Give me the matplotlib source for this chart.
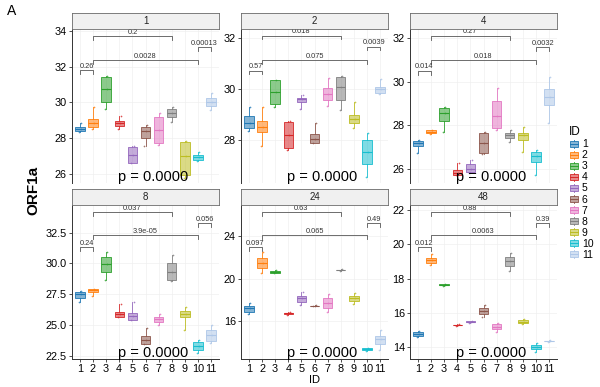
import matplotlib
matplotlib.use("Agg")
import matplotlib.pyplot as plt
from matplotlib.patches import Rectangle, Patch
from matplotlib.lines import Line2D
from matplotlib.legend_handler import HandlerBase
from matplotlib.transforms import blended_transform_factory
from matplotlib.ticker import FormatStrFormatter

plt.rcParams['font.family'] = ['Liberation Sans', 'DejaVu Sans']

TIMES = ['1', '2', '4', '8', '24', '48']
IDS = list(range(1, 12))
COLORS = ['#1f77b4', '#ff7f0e', '#2ca02c', '#d62728', '#9467bd', '#8c564b',
          '#e377c2', '#7f7f7f', '#bcbd22', '#17becf', '#aec7e8']

# box statistics per time point (lo whisker, q1, median, q3, hi whisker)
t1_lo = [28.35, 28.49, 29.61, 28.49, 26.60, 27.58, 27.63, 28.92, 25.80, 26.75, 29.57]
t1_q1 = [28.40, 28.62, 30.03, 28.71, 26.61, 28.04, 27.74, 29.16, 25.95, 26.80, 29.79]
t1_md = [28.49, 28.83, 30.76, 28.84, 27.06, 28.41, 28.47, 29.42, 26.98, 26.94, 30.02]
t1_q3 = [28.60, 29.05, 31.40, 28.97, 27.50, 28.60, 29.20, 29.61, 27.80, 27.06, 30.22]
t1_hi = [28.86, 29.72, 31.50, 29.25, 27.55, 28.73, 29.39, 29.75, 27.82, 27.24, 30.54]

t2_lo = [28.38, 27.78, 29.30, 27.62, 29.24, 27.88, 29.35, 29.19, 28.50, 26.57, 29.80]
t2_q1 = [28.47, 28.31, 29.42, 27.71, 29.51, 27.91, 29.58, 29.58, 28.67, 27.06, 29.85]
t2_md = [28.69, 28.53, 29.91, 28.22, 29.62, 28.04, 29.82, 30.10, 28.84, 27.55, 30.00]
t2_q3 = [28.95, 28.77, 30.36, 28.72, 29.67, 28.25, 30.04, 30.49, 28.99, 28.01, 30.08]
t2_hi = [29.32, 29.30, 30.38, 28.75, 29.78, 28.66, 30.45, 30.52, 29.51, 28.27, 30.40]

t4_lo = [26.73, 27.60, 27.70, 25.70, 25.80, 26.67, 27.79, 27.24, 26.75, 25.70, 28.08]
t4_q1 = [27.05, 27.62, 28.20, 25.70, 25.83, 26.70, 27.85, 27.39, 27.31, 26.29, 28.91]
t4_md = [27.16, 27.69, 28.54, 25.80, 26.00, 27.19, 28.42, 27.54, 27.53, 26.58, 29.31]
t4_q3 = [27.28, 27.77, 28.77, 25.93, 26.21, 27.65, 29.11, 27.65, 27.65, 26.77, 29.65]
t4_hi = [27.30, 27.80, 28.85, 26.27, 26.39, 27.67, 29.70, 27.77, 27.93, 26.85, 30.23]

t8_lo = [26.84, 27.35, 28.65, 25.65, 25.40, 23.45, 24.98, 28.60, 24.59, 22.74, 23.50]
t8_q1 = [27.22, 27.70, 29.28, 25.65, 25.40, 23.46, 25.25, 28.65, 25.62, 22.96, 23.72]
t8_md = [27.49, 27.80, 29.95, 25.86, 25.73, 23.78, 25.48, 29.33, 25.89, 23.31, 24.18]
t8_q3 = [27.70, 27.90, 30.55, 26.05, 25.95, 24.13, 25.67, 30.06, 26.16, 23.58, 24.59]
t8_hi = [27.75, 27.95, 30.96, 26.70, 26.84, 24.73, 25.87, 30.69, 26.48, 23.78, 25.00]

t24_lo = [16.68, 20.49, 20.50, 16.60, 17.50, 17.40, 16.84, 20.74, 17.60, 13.20, 13.30]
t24_q1 = [16.90, 20.95, 20.55, 16.68, 17.83, 17.41, 17.21, 20.76, 17.90, 13.28, 13.88]
t24_md = [17.21, 21.42, 20.64, 16.75, 18.15, 17.43, 17.68, 20.79, 18.15, 13.38, 14.35]
t24_q3 = [17.46, 21.94, 20.72, 16.82, 18.39, 17.46, 18.15, 20.82, 18.36, 13.48, 14.65]
t24_hi = [17.74, 22.50, 20.78, 16.87, 18.72, 17.50, 18.55, 20.85, 18.64, 13.55, 15.20]

t48_lo = [14.63, 18.80, 17.60, 15.25, 15.44, 15.75, 14.90, 18.45, 15.35, 13.70, 14.33]
t48_q1 = [14.68, 18.93, 17.63, 15.28, 15.46, 15.94, 15.05, 18.74, 15.40, 13.89, 14.35]
t48_md = [14.80, 19.09, 17.65, 15.30, 15.49, 16.12, 15.20, 19.03, 15.49, 14.00, 14.37]
t48_q3 = [14.91, 19.22, 17.67, 15.32, 15.51, 16.27, 15.34, 19.28, 15.59, 14.14, 14.39]
t48_hi = [14.97, 19.42, 17.70, 15.35, 15.54, 16.47, 15.40, 19.50, 15.65, 14.25, 14.41]

# pairwise comparisons
PAIRS = [(1, 2), (2, 8), (2, 10), (10, 11)]
p_t1 = ['0.26', '0.2', '0.0028', '0.00013']
p_t2 = ['0.57', '0.018', '0.075', '0.0039']
p_t4 = ['0.014', '0.27', '0.018', '0.0032']
p_t8 = ['0.24', '0.037', '3.9e-05', '0.056']
p_t24 = ['0.097', '0.63', '0.065', '0.49']
p_t48 = ['0.012', '0.88', '0.0063', '0.39']
by_t1 = [31.79, 33.70, 32.36, 33.10]
by_t2 = [30.73, 32.10, 31.15, 31.67]
by_t4 = [30.51, 32.12, 31.00, 31.61]
by_t8 = [31.31, 34.16, 32.31, 33.29]
by_t24 = [22.92, 26.19, 24.07, 25.16]
by_t48 = [19.83, 21.87, 20.54, 21.23]
GLOBAL_P = 'p = 0.0000'

YLIMS = [(25.5, 34.1), (26.33, 32.36), (25.34, 32.43),
         (22.23, 34.75), (12.48, 26.87), (13.32, 22.29)]
YTICKS = [[26, 28, 30, 32, 34], [28, 30, 32], [26, 28, 30, 32],
          [22.5, 25, 27.5, 30, 32.5], [16, 20, 24], [14, 16, 18, 20, 22]]

STATS = [(t1_lo, t1_q1, t1_md, t1_q3, t1_hi), (t2_lo, t2_q1, t2_md, t2_q3, t2_hi),
         (t4_lo, t4_q1, t4_md, t4_q3, t4_hi), (t8_lo, t8_q1, t8_md, t8_q3, t8_hi),
         (t24_lo, t24_q1, t24_md, t24_q3, t24_hi), (t48_lo, t48_q1, t48_md, t48_q3, t48_hi)]
PLAB = [p_t1, p_t2, p_t4, p_t8, p_t24, p_t48]
BY = [by_t1, by_t2, by_t4, by_t8, by_t24, by_t48]

W, H = 600, 387
fig = plt.figure(figsize=(6, 3.87), dpi=100)

col_left = [72, 241, 410]
pw = 147
rows = [(29, 183, 13), (205, 359, 189)]  # plot top, plot bottom, strip top


def fx(px):
    return px / W


def fy(py):
    return 1 - py / H


for k, t in enumerate(TIMES):
    r, c = divmod(k, 3)
    top, bot, stop = rows[r]
    ax = fig.add_axes([fx(col_left[c]), fy(bot), pw / W, (bot - top) / H])
    sax = fig.add_axes([fx(col_left[c]), fy(top), pw / W, (top - stop) / H])
    sax.set_facecolor('#F0F0F0')
    sax.set_xticks([]); sax.set_yticks([])
    for s in sax.spines.values():
        s.set_color('#6a6a6a'); s.set_linewidth(0.6)
    sax.text(0.5, 0.5, t, ha='center', va='center', fontsize=7, color='#222222',
             transform=sax.transAxes)

    lo, q1, md, q3, hi = STATS[k]
    bstats = [dict(whislo=lo[i], q1=q1[i], med=md[i], q3=q3[i], whishi=hi[i], fliers=[])
              for i in range(len(IDS))]
    bp = ax.bxp(bstats, positions=IDS, widths=0.72, patch_artist=True,
                showcaps=False, showfliers=False, manage_ticks=False)
    for i, col in enumerate(COLORS):
        bp['boxes'][i].set_facecolor(matplotlib.colors.to_rgba(col, 0.55))
        bp['boxes'][i].set_edgecolor(col)
        bp['boxes'][i].set_linewidth(0.6)
        bp['medians'][i].set_color(col)
        bp['medians'][i].set_linewidth(0.8)
        for wl in bp['whiskers'][2 * i:2 * i + 2]:
            wl.set_color(col); wl.set_linewidth(0.6)
        # jittered sample points
        ax.scatter([IDS[i] - 0.08, IDS[i] + 0.05, IDS[i] + 0.1],
                   [lo[i], md[i], hi[i]], s=1.5, color=col, alpha=0.8,
                   linewidths=0, zorder=4)

    ax.set_xlim(0.4, 11.6)
    ax.set_ylim(*YLIMS[k])
    ax.set_yticks(YTICKS[k])
    if k == 3:
        ax.yaxis.set_major_formatter(FormatStrFormatter('%.1f'))
    ax.set_xticks(IDS)
    ax.grid(True, which='major', color='#EDEDED', linewidth=0.4)
    ax.set_axisbelow(True)
    for s in ['top', 'right']:
        ax.spines[s].set_visible(False)
    ax.spines['left'].set_color('#333333'); ax.spines['left'].set_linewidth(0.7)
    ax.spines['bottom'].set_color('#333333'); ax.spines['bottom'].set_linewidth(0.7)
    ax.tick_params(axis='both', length=2.2, width=0.6, color='#333333',
                   labelsize=7.8, pad=1.5, labelcolor='black')
    if r == 0:
        ax.spines['bottom'].set_visible(False)
        ax.tick_params(axis='x', length=0, labelbottom=False)

    # brackets
    span = YLIMS[k][1] - YLIMS[k][0]
    tip = 0.025 * span
    for (a, b), lab, yb in zip(PAIRS, PLAB[k], BY[k]):
        ax.plot([a, a, b, b], [yb - tip, yb, yb, yb - tip], color='#555555',
                lw=0.6, zorder=5)
        ax.text((a + b) / 2, yb + 0.002 * span, lab, ha='center', va='bottom',
                fontsize=5.3, color='#333333', zorder=6)

    tr = blended_transform_factory(ax.transData, ax.transAxes)
    ax.text(6.6, -0.005, GLOBAL_P, transform=tr, ha='center', va='bottom',
            fontsize=10.5, color='black', zorder=7)

fig.text(fx(315), fy(380), 'ID', ha='center', va='center', fontsize=8)
fig.text(fx(33), fy(190), 'ORF1a', ha='center', va='center', rotation=90,
         fontsize=11, fontweight='bold')
fig.text(fx(7), fy(11), 'A', ha='left', va='center', fontsize=10)


class BoxHandler(HandlerBase):
    def create_artists(self, legend, orig_handle, xdescent, ydescent, width,
                       height, fontsize, trans):
        col = orig_handle.get_edgecolor()
        x0, y0 = -xdescent, -ydescent
        rect = Rectangle((x0 + 0.05 * width, y0 + 0.15 * height), 0.9 * width,
                         0.7 * height, facecolor=(col[0], col[1], col[2], 0.55),
                         edgecolor=col, linewidth=0.6, transform=trans)
        med = Line2D([x0 + 0.05 * width, x0 + 0.95 * width],
                     [y0 + 0.5 * height] * 2, color=col, lw=0.7, transform=trans)
        w1 = Line2D([x0 + 0.5 * width] * 2, [y0 + 0.85 * height, y0 + height],
                    color=col, lw=0.6, transform=trans)
        w2 = Line2D([x0 + 0.5 * width] * 2, [y0, y0 + 0.15 * height],
                    color=col, lw=0.6, transform=trans)
        return [rect, med, w1, w2]


handles = [Patch(facecolor=c, edgecolor=c) for c in COLORS]
leg = fig.legend(handles, [str(i) for i in IDS], title='ID',
                 loc='upper left', bbox_to_anchor=(fx(562), fy(119)),
                 handler_map={Patch: BoxHandler()}, frameon=False,
                 fontsize=7.5, title_fontsize=8.5, handlelength=0.9,
                 handleheight=0.8, labelspacing=0.1, handletextpad=0.3,
                 borderpad=0.2, alignment='left')

fig.savefig('out.png', dpi=100)
